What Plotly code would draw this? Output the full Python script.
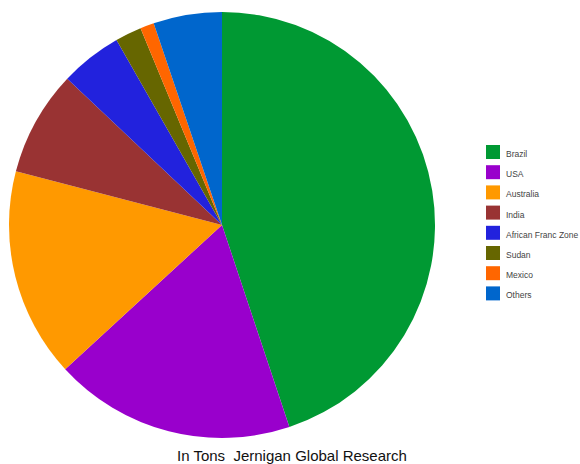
import plotly.graph_objects as go

# Share of production by origin (percent of total tonnage)
labels = ["Brazil", "USA", "Australia", "India", "African Franc Zone",
          "Sudan", "Mexico", "Others"]
values = [44.9, 18.3, 15.9, 8.0, 4.7, 2.0, 1.05, 5.2]
colors = ["#009933", "#9900CC", "#FF9900", "#993333", "#2222DD",
          "#666600", "#FF6600", "#0066CC"]

W, H = 580, 464
cx, cy, r = 222, 225, 213

fig = go.Figure(go.Pie(
    labels=labels,
    values=values,
    sort=False,
    direction="clockwise",
    rotation=0,
    textinfo="none",
    hoverinfo="label+percent",
    marker=dict(colors=colors, line=dict(width=0)),
    domain=dict(x=[(cx - r) / W, (cx + r) / W],
                y=[(H - cy - r) / H, (H - cy + r) / H]),
    showlegend=False,
))

# Key on the right: a colour swatch and a label per slice
key_left, key_top, key_step, sw = 486, 152, 20.2, 14
shapes, annotations = [], []
for i, (lab, col) in enumerate(zip(labels, colors)):
    yc = key_top + i * key_step
    shapes.append(dict(
        type="rect", xref="paper", yref="paper",
        x0=key_left / W, x1=(key_left + sw) / W,
        y0=(H - yc - sw / 2) / H, y1=(H - yc + sw / 2) / H,
        fillcolor=col, line=dict(width=0),
    ))
    annotations.append(dict(
        text=lab, xref="paper", yref="paper",
        x=(key_left + sw + 6) / W, y=(H - yc - 2) / H,
        xanchor="left", yanchor="middle", showarrow=False,
        borderpad=0, borderwidth=0,
        font=dict(size=8.5, color="#444444"),
    ))

annotations.append(dict(
    text="In Tons  Jernigan Global Research",
    x=291.5 / W, y=(H - 455) / H, xref="paper", yref="paper",
    xanchor="center", yanchor="middle", showarrow=False,
    borderpad=0, borderwidth=0,
    font=dict(size=15, color="#111111"),
))

fig.update_layout(
    width=W, height=H,
    margin=dict(l=0, r=0, t=0, b=0, autoexpand=False),
    paper_bgcolor="white",
    plot_bgcolor="white",
    font=dict(family="Liberation Sans, Arial, sans-serif"),
    shapes=shapes,
    annotations=annotations,
)

fig.write_html("out.html")
